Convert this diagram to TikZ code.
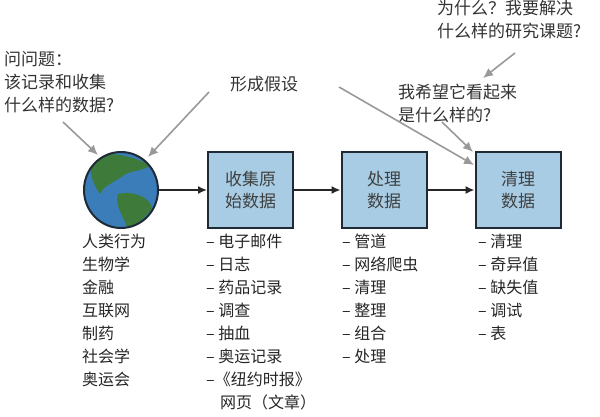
\documentclass[tikz,border=0pt]{standalone}
\usepackage{fontspec}
\setmainfont{Noto Sans CJK SC}
\usetikzlibrary{arrows.meta,shapes.geometric}
\definecolor{boxfill}{HTML}{A7CCE4}
\definecolor{boxline}{HTML}{1E2A36}
\definecolor{seablue}{HTML}{3A7DB9}
\definecolor{landgreen}{HTML}{3E7A3A}
\begin{document}
\begin{tikzpicture}[x=1pt,y=-1pt,
	stepbox/.style={
		% The shape:
		rectangle,
		minimum width=85pt, minimum height=76pt,
		% The border:
		line width=2pt, draw=boxline,
		% The filling:
		fill=boxfill,
		font=\fontsize{17}{22}\selectfont, text=black!75, align=center
		},
	note/.style={font=\fontsize{17}{23}\selectfont, text=black!80, align=left, inner sep=0pt},
	items/.style={font=\fontsize{16}{23}\selectfont, text=black!85, align=left, anchor=north west, inner sep=0pt},
	flow/.style={-{Latex[length=9pt,width=8pt]}, line width=1.6pt, black!85},
	hint/.style={-{Latex[length=10pt,width=9pt]}, line width=1.6pt, black!40}]

	\useasboundingbox (0,0) rectangle (600,417);

	% the globe
	\node (globe) [ellipse, minimum width=74pt, minimum height=76pt, inner sep=0pt] at (121,190) {};
	\fill[seablue] (globe.center) ellipse (37 and 38);
	\begin{scope}
		\clip (globe.center) ellipse (37 and 38);
		\fill[landgreen] (92,156) .. controls (110,150) and (140,158) .. (150,166)
			.. controls (140,172) and (128,170) .. (120,178)
			.. controls (112,183) and (104,186) .. (100,194)
			.. controls (94,185) and (88,174) .. (92,156) -- cycle;
		\fill[landgreen] (118,194) .. controls (134,190) and (150,198) .. (152,208)
			.. controls (146,218) and (136,224) .. (128,230)
			.. controls (124,216) and (114,206) .. (118,194) -- cycle;
	\end{scope}
	\draw[line width=2pt, boxline] (globe.center) ellipse (37 and 38);

	\node (collect) [stepbox] at (250.5,190) {收集原\\始数据};
	\node (process) [stepbox] at (384,190) {处理\\数据};
	\node (clean) [stepbox] at (518,190) {清理\\数据};

	\draw[flow] (globe) -- (collect);
	\draw[flow] (collect) -- (process);
	\draw[flow] (process) -- (clean);

	% the questions
	\node (ask) [note, anchor=north west] at (4,51) {问问题：\\该记录和收集\\什么样的数据?};
	\node (guess) [note] at (264,84) {形成假设};
	\node (why) [note, anchor=north west] at (437,0) {为什么？我要解决\\什么样的研究课题?};
	\node (look) [note, anchor=north west] at (398,84) {我希望它看起来\\是什么样的?};

	\coordinate (askend) at (63,122);
	\coordinate (guessend) at (209,92);
	\coordinate (guessfar) at (339,87);
	\coordinate (lookend) at (442,122);
	\coordinate (whyend) at (515,53);
	\draw[hint] (askend) -- (98,155);
	\draw[hint] (guessend) -- (148,157);
	\draw[hint] (guessfar) -- (474,165);
	\draw[hint] (lookend) -- (473,152);
	\draw[hint] (whyend) -- (483,78);

	% the lists
	\node (fields) [items] at (82,234) {人类行为\\生物学\\金融\\互联网\\制药\\社会学\\奥运会};
	\node (sources) [items] at (206,234) {– 电子邮件\\– 日志\\– 药品记录\\– 调查\\– 抽血\\– 奥运记录\\–《纽约时报》\\\hspace{14pt}网页（文章）};
	\node (tools) [items] at (342,234) {– 管道\\– 网络爬虫\\– 清理\\– 整理\\– 组合\\– 处理};
	\node (tasks) [items] at (478,234) {– 清理\\– 奇异值\\– 缺失值\\– 调试\\– 表};

\end{tikzpicture}
\end{document}
